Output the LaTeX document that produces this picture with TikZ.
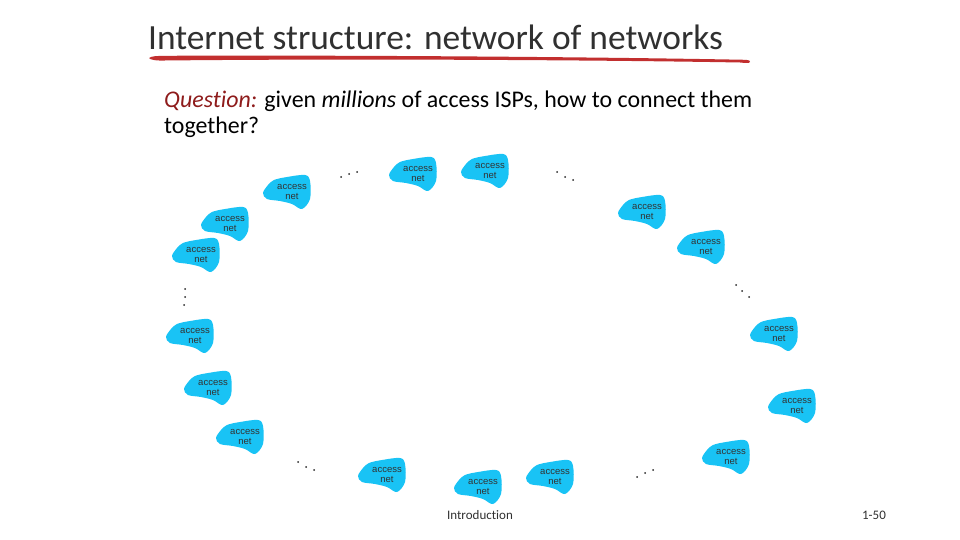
\documentclass[tikz,border=0pt]{standalone}
\usepackage{fontspec}
\setmainfont{Carlito}[Ligatures=NoCommon]
\newfontfamily\netfont{Liberation Sans}
\definecolor{netblue}{HTML}{19C3F5}
\definecolor{markred}{HTML}{C22F2F}
\definecolor{qred}{HTML}{8E1B1B}
\definecolor{inktext}{HTML}{303030}

\begin{document}
\begin{tikzpicture}[
    x=1pt, y=-1pt,
    nettext/.style={align=center, inner sep=0pt, font=\netfont\fontsize{9.5}{10.5}\selectfont, text=black!80},
    blob/.style={fill=netblue},
    titletext/.style={anchor=base west, inner sep=0pt, font=\fontsize{35.4}{40}\selectfont, text=inktext},
    bodytext/.style={anchor=base west, inner sep=0pt, font=\fontsize{23.9}{27}\selectfont, text=black},
    foottext/.style={inner sep=0pt, font=\fontsize{13}{15}\selectfont, text=inktext},
    dotmark/.style={fill=black!85}
]
\useasboundingbox (0,0) rectangle (960,540);

\node[titletext] (title) at (148,50) {Internet structure: network of networks};
\fill[markred] (149,58) .. controls (152,56) and (156,56) .. (165,55.8)
    .. controls (350,55) and (600,57) .. (745,59.8) .. controls (749,60) and (751,61) .. (750,62)
    .. controls (749,63.5) and (745,63) .. (740,62.5)
    .. controls (600,60) and (350,58.5) .. (165,60.5) .. controls (157,60.8) and (150,60) .. cycle;

\node[bodytext] (question) at (164,108) {\textcolor{qred}{\itshape Question:} given \textit{millions} of access ISPs, how to connect them};
\node[bodytext] (together) at (164,134) {together?};

% access nets
\foreach \nx/\ny/\nname in {418/173/neta, 490/170/netb, 292/191/netc, 230/223/netd, 201/254/nete,
    647/211/netf, 706/246/netg, 195/335/neth, 779/333/neti, 213/387/netj, 797/405/netk,
    245/436/netl, 387/474/netm, 483/486/netn, 555/476/neto, 731/456/netp} {
  \fill[blob, shift={(\nx,\ny)}] plot[smooth cycle, tension=0.55] coordinates {
      (-29,2) (-24,-6) (-18,-11) (-5,-14) (13,-16) (18,-10)
      (18,8) (10,18) (0,13) (-12,10) (-25,8)};
  \node[nettext] (\nname) at (\nx,\ny+1) {access\\net};
}

% dots
\foreach \dx/\dy in {341/177, 349/174, 357/172, 557/172, 565/177, 573/180,
    185/289, 185/297, 184/305, 736/285, 742/291, 749/297,
    298/462, 306/467, 314/470, 637/477, 645/473, 653/470} {
  \fill[dotmark] (\dx,\dy) circle (1pt);
}

\node[foottext] (intro) at (480,515) {Introduction};
\node[foottext] (page) at (874,515) {1-50};
\end{tikzpicture}
\end{document}
